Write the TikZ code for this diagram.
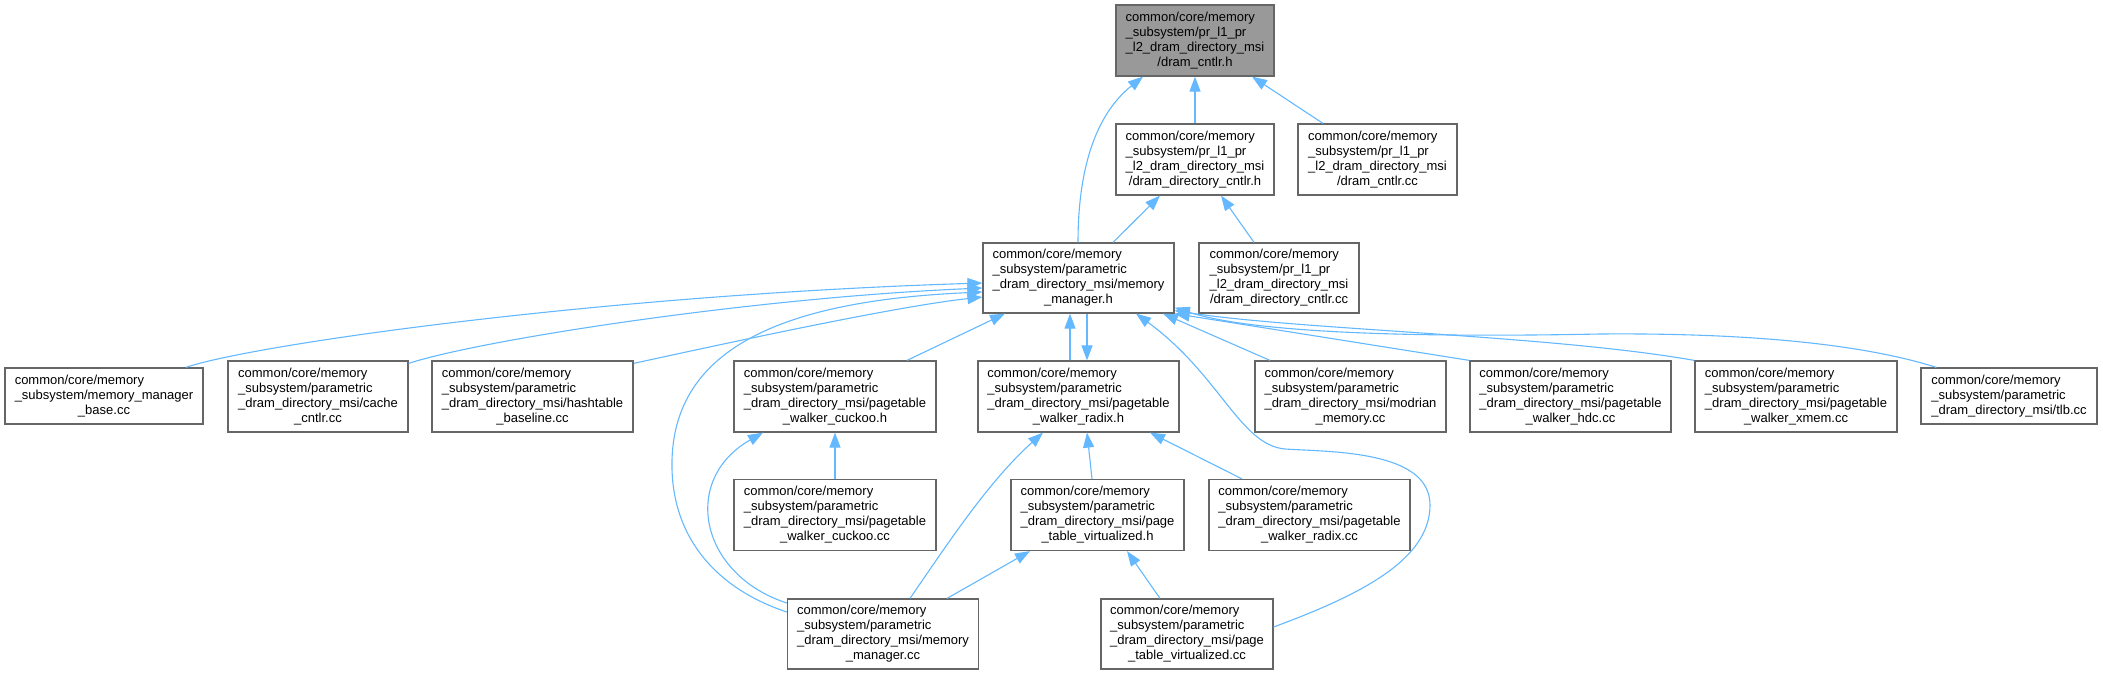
\documentclass[tikz,border=0pt]{standalone}
\usepackage{fontspec}
\setmainfont{Liberation Sans}
\usetikzlibrary{arrows.meta}
\definecolor{edgec}{HTML}{63B8FF}
\definecolor{boxc}{HTML}{666666}
\definecolor{rootc}{HTML}{999999}
\newcommand{\lb}[2]{\begin{tabular}{@{}l@{}}#1\\\multicolumn{1}{@{}c@{}}{#2}\end{tabular}}
\newcommand{\pre}{common/core/memory\\\_subsystem/parametric\\}
\newcommand{\prl}{common/core/memory\\\_subsystem/pr\_l1\_pr\\\_l2\_dram\_directory\_msi}
\tikzset{
  box/.style={draw=boxc, line width=1.2pt, fill=white, inner sep=0pt, minimum height=71pt, font=\fontsize{13}{15}\selectfont, anchor=center},
  edge/.style={draw=edgec, line width=1.1pt, -{Triangle[length=15pt,width=11pt]}},
}
\begin{document}
\begin{tikzpicture}[x=1pt,y=-1pt]
\useasboundingbox (0,0) rectangle (2103,675);
% row 0
\node[box, fill=rootc, minimum width=158pt] (root) at (1195,40.5) {\lb{\prl}{/dram\_cntlr.h}};
% row 1
\node[box, minimum width=158pt] (dch) at (1195,159.5) {\lb{\prl}{/dram\_directory\_cntlr.h}};
\node[box, minimum width=159pt] (dcc) at (1377.5,159.5) {\lb{\prl}{/dram\_cntlr.cc}};
% row 2
\node[box, minimum width=191pt, minimum height=70pt] (mmh) at (1078.5,278) {\lb{\pre\_dram\_directory\_msi/memory}{\_manager.h}};
\node[box, minimum width=160pt, minimum height=70pt] (ddcc) at (1279,278) {\lb{\prl}{/dram\_directory\_cntlr.cc}};
% row 3
\node[box, minimum width=198pt, minimum height=56pt] (mmb) at (104,396) {\lb{common/core/memory\\\_subsystem/memory\_manager}{\_base.cc}};
\node[box, minimum width=180pt] (cache) at (318,396.5) {\lb{\pre\_dram\_directory\_msi/cache}{\_cntlr.cc}};
\node[box, minimum width=201pt] (hash) at (532.5,396.5) {\lb{\pre\_dram\_directory\_msi/hashtable}{\_baseline.cc}};
\node[box, minimum width=202pt] (cuh) at (835,396.5) {\lb{\pre\_dram\_directory\_msi/pagetable}{\_walker\_cuckoo.h}};
\node[box, minimum width=201pt] (rxh) at (1078.5,396.5) {\lb{\pre\_dram\_directory\_msi/pagetable}{\_walker\_radix.h}};
\node[box, minimum width=191pt] (mod) at (1350.5,396.5) {\lb{\pre\_dram\_directory\_msi/modrian}{\_memory.cc}};
\node[box, minimum width=201pt] (hdc) at (1570.5,396.5) {\lb{\pre\_dram\_directory\_msi/pagetable}{\_walker\_hdc.cc}};
\node[box, minimum width=202pt] (xmem) at (1796,396.5) {\lb{\pre\_dram\_directory\_msi/pagetable}{\_walker\_xmem.cc}};
\node[box, minimum width=176pt, minimum height=56pt] (tlb) at (2009,396) {\lb{common/core/memory\\\_subsystem/parametric}{\_dram\_directory\_msi/tlb.cc}};
% row 4
\node[box, minimum width=202pt] (cucc) at (835,515) {\lb{\pre\_dram\_directory\_msi/pagetable}{\_walker\_cuckoo.cc}};
\node[box, minimum width=173pt] (ptvh) at (1097.5,515) {\lb{\pre\_dram\_directory\_msi/page}{\_table\_virtualized.h}};
\node[box, minimum width=201pt] (rxcc) at (1309.5,515) {\lb{\pre\_dram\_directory\_msi/pagetable}{\_walker\_radix.cc}};
% row 5
\node[box, minimum width=191pt, minimum height=70pt] (mmcc) at (883,634) {\lb{\pre\_dram\_directory\_msi/memory}{\_manager.cc}};
\node[box, minimum width=172pt, minimum height=70pt] (ptvcc) at (1187,634) {\lb{\pre\_dram\_directory\_msi/page}{\_table\_virtualized.cc}};
% edges
\draw[edge] (dch.north) -- (root.south);
\draw[edge] ([xshift=-54.5pt]dcc.north) -- ([xshift=57pt]root.south);
\draw[edge] ([xshift=-0.5pt]mmh.north) .. controls (1078,170) and (1095,115) .. ([xshift=-52pt]root.south);
\draw[edge] ([xshift=34.5pt]mmh.north) -- ([xshift=-35pt]dch.south);
\draw[edge] ([xshift=-25pt]ddcc.north) -- ([xshift=26pt]dch.south);
\draw[edge] ([xshift=82pt]mmb.north) .. controls (250,345) and (600,295) .. ([yshift=-5pt]mmh.west);
\draw[edge] ([yshift=-3pt]cache.north east) .. controls (480,340) and (750,298) .. ([yshift=-10pt]mmh.west);
\draw[edge] ([yshift=-3pt]hash.north east) .. controls (750,338) and (900,306) .. ([yshift=-19pt]mmh.west);
\draw[edge] ([yshift=22pt]mmcc.west) .. controls (720,590) and (670,540) .. (672,460) .. controls (675,340) and (800,300) .. ([yshift=-14pt]mmh.west);
\draw[edge] ([xshift=72pt]cuh.north) -- ([xshift=-73.5pt]mmh.south);
\draw[edge] ([xshift=-8.5pt]rxh.north) -- ([xshift=-8.5pt]mmh.south);
\draw[edge] ([xshift=8.5pt]mmh.south) -- ([xshift=8.5pt]rxh.north);
\draw[edge] ([yshift=7pt]ptvcc.east) .. controls (1360,595) and (1430,560) .. (1430,505) .. controls (1430,450) and (1330,452) .. (1285,449) .. controls (1240,445) and (1220,375) .. ([xshift=57.5pt]mmh.south);
\draw[edge] ([xshift=-80.5pt]mod.north) -- ([xshift=84.5pt]mmh.south);
\draw[edge] (hdc.north west) -- (mmh.south east);
\draw[edge] (xmem.north west) .. controls (1550,335) and (1300,330) .. ([yshift=3pt]mmh.south east);
\draw[edge] ([xshift=16pt]tlb.north west) .. controls (1850,340) and (1720,333) .. (1600,334) .. controls (1400,338) and (1250,332) .. ([yshift=6pt]mmh.south east);
\draw[edge] (cucc.north) -- (cuh.south);
\draw[edge] ([yshift=31pt]mmcc.west) .. controls (700,575) and (680,480) .. ([xshift=-72pt]cuh.south);
\draw[edge] ([xshift=27pt]mmcc.north) .. controls (950,540) and (990,480) .. ([xshift=-35.5pt]rxh.south);
\draw[edge] ([xshift=-5.5pt]ptvh.north) -- ([xshift=8.5pt]rxh.south);
\draw[edge] ([xshift=-67.5pt]rxcc.north) -- ([xshift=71.5pt]rxh.south);
\draw[edge] ([xshift=64pt]mmcc.north) -- ([xshift=-67.5pt]ptvh.south);
\draw[edge] ([xshift=-27pt]ptvcc.north) -- ([xshift=29.5pt]ptvh.south);
\end{tikzpicture}
\end{document}
